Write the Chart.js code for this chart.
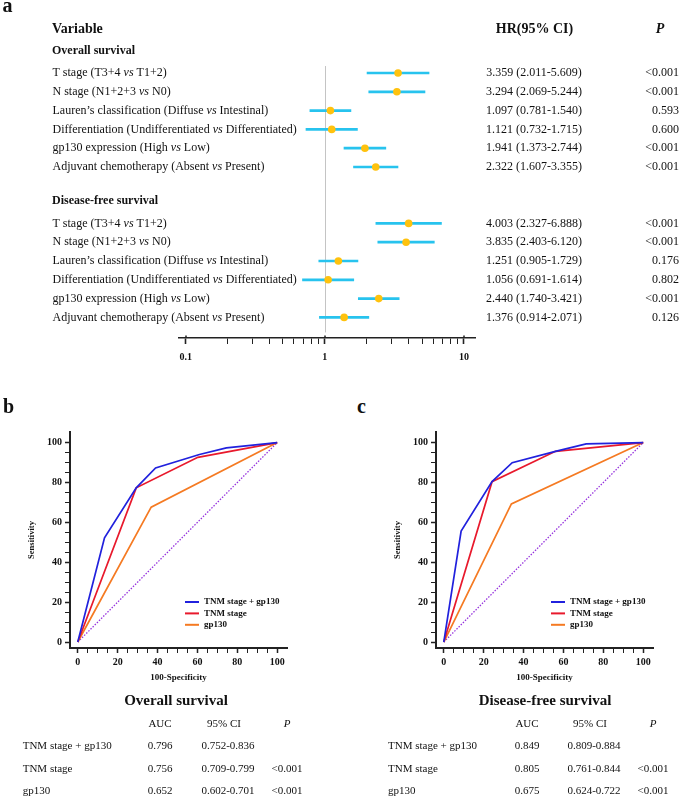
<!DOCTYPE html>
<html lang="en">
<head>
    <meta charset="UTF-8"/>
    <title>gp130 - hazard ratios and ROC curves</title>
    <script src="https://cdn.jsdelivr.net/npm/chart.js@4.4.1/dist/chart.umd.min.js"></script>
    <style>
        body { margin: 0; background: #fff; }
        #page { position: relative; width: 685px; height: 798px; overflow: hidden; color: #111;
                font-family: 'Liberation Serif', 'Times New Roman', serif; }
        .abs { position: absolute; white-space: nowrap; line-height: 1; }
        canvas { position: absolute; }
    </style>
</head>
<body>
<div id="page">
    <canvas id="forest" width="685" height="372" style="left:0;top:0"></canvas>
    <canvas id="rocOS" width="319" height="272" style="left:0;top:420px"></canvas>
    <canvas id="rocDFS" width="319" height="272" style="left:366px;top:420px"></canvas>
</div>

<script>
    // ---- forest plot data (panel a) ----
    const variables = [
        'T stage (T3+4 vs T1+2)',
        'N stage (N1+2+3 vs N0)',
        'Lauren\u2019s classification (Diffuse vs Intestinal)',
        'Differentiation (Undifferentiated vs Differentiated)',
        'gp130 expression (High vs Low)',
        'Adjuvant chemotherapy (Absent vs Present)'
    ];
    const osHR = [3.359, 3.294, 1.097, 1.121, 1.941, 2.322];
    const osLow = [2.011, 2.069, 0.781, 0.732, 1.373, 1.607];
    const osHigh = [5.609, 5.244, 1.540, 1.715, 2.744, 3.355];
    const osP = ['<0.001', '<0.001', '0.593', '0.600', '<0.001', '<0.001'];
    const dfsHR = [4.003, 3.835, 1.251, 1.056, 2.440, 1.376];
    const dfsLow = [2.327, 2.403, 0.905, 0.691, 1.740, 0.914];
    const dfsHigh = [6.888, 6.120, 1.729, 1.614, 3.421, 2.071];
    const dfsP = ['<0.001', '<0.001', '0.176', '0.802', '<0.001', '0.126'];
    const hrTicks = [1/10, 2/10, 3/10, 4/10, 5/10, 6/10, 7/10, 8/10, 9/10, 1, 2, 3, 4, 5, 6, 7, 8, 9, 10];
    const hrLabels = [1/10, 1, 10];

    // ---- ROC data (panels b, c): x = 100-specificity, y = sensitivity ----
    const rocModels = ['TNM stage + gp130', 'TNM stage', 'gp130'];
    const osCombX = [0, 13.4, 29.3, 39, 61, 74.5, 100];
    const osCombY = [0, 52.2, 77.3, 87.3, 94, 97.3, 100];
    const osTnmX = [0, 29.3, 60.2, 100];
    const osTnmY = [0, 77.3, 92.6, 100];
    const osGpX = [0, 36.8, 100];
    const osGpY = [0, 67.6, 100];
    const dfsCombX = [0, 8.7, 24.2, 34.3, 56, 71.4, 100];
    const dfsCombY = [0, 55.6, 80.4, 89.9, 95.6, 99.3, 100];
    const dfsTnmX = [0, 24.2, 56, 100];
    const dfsTnmY = [0, 80.4, 95.6, 100];
    const dfsGpX = [0, 33.9, 100];
    const dfsGpY = [0, 69.2, 100];
    const chanceX = [0, 100];
    const chanceY = [0, 100];
    const rocTicks = [0, 5, 10, 15, 20, 25, 30, 35, 40, 45, 50, 55, 60, 65, 70, 75, 80, 85, 90, 95, 100];

    // ---- AUC tables ----
    const osAUC = ['0.796', '0.756', '0.652'];
    const osCI = ['0.752-0.836', '0.709-0.799', '0.602-0.701'];
    const osAucP = ['', '<0.001', '<0.001'];
    const dfsAUC = ['0.849', '0.805', '0.675'];
    const dfsCI = ['0.809-0.884', '0.761-0.844', '0.624-0.722'];
    const dfsAucP = ['', '<0.001', '<0.001'];

    const serif = "'Liberation Serif', 'Times New Roman', serif";
    Chart.defaults.font.family = serif;
    Chart.defaults.color = '#111';

    // =================== FOREST PLOT ===================
    const barData = [];
    const dotData = [];
    osHR.forEach((v, i) => {
        barData.push({x: [osLow[i], osHigh[i]], y: 2 + i});
        dotData.push({x: v, y: 2 + i});
    });
    dfsHR.forEach((v, i) => {
        barData.push({x: [dfsLow[i], dfsHigh[i]], y: 10 + i});
        dotData.push({x: v, y: 10 + i});
    });

    function hrText(h, l, u) {
        return h.toFixed(3) + ' (' + l.toFixed(3) + '-' + u.toFixed(3) + ')';
    }

    // label with the "vs" in italics
    function drawLabel(ctx, text, x, y) {
        const parts = text.split(' vs ');
        ctx.font = '12px ' + serif;
        ctx.fillText(parts[0] + ' ', x, y);
        let cx = x + ctx.measureText(parts[0] + ' ').width;
        ctx.font = 'italic 12px ' + serif;
        ctx.fillText('vs', cx, y);
        cx += ctx.measureText('vs').width;
        ctx.font = '12px ' + serif;
        ctx.fillText(' ' + parts[1], cx, y);
    }

    const forestText = {
        id: 'forestText',
        beforeDatasetsDraw(chart) {
            const {ctx, scales: {x, y}} = chart;
            const px = Math.round(x.getPixelForValue(1)) + 0.5;
            ctx.save();
            ctx.strokeStyle = '#c4c4c4';
            ctx.lineWidth = 1;
            ctx.beginPath();
            ctx.moveTo(px, y.getPixelForValue(1.63));
            ctx.lineTo(px, y.getPixelForValue(15.8));
            ctx.stroke();
            ctx.restore();
        },
        afterDraw(chart) {
            const {ctx, scales: {x, y}, chartArea} = chart;
            ctx.save();
            ctx.fillStyle = '#111';
            ctx.textBaseline = 'middle';

            // headers
            ctx.textAlign = 'left';
            ctx.font = 'bold 14px ' + serif;
            ctx.fillText('Variable', 52, y.getPixelForValue(-0.34));
            ctx.textAlign = 'center';
            ctx.fillText('HR(95% CI)', 534.5, y.getPixelForValue(-0.34));
            ctx.font = 'italic bold 14px ' + serif;
            ctx.fillText('P', 660, y.getPixelForValue(-0.34));

            ctx.textAlign = 'left';
            ctx.font = 'bold 12px ' + serif;
            ctx.fillText('Overall survival', 52, y.getPixelForValue(0.83));
            ctx.fillText('Disease-free survival', 52, y.getPixelForValue(8.81));

            const groups = [
                {start: 2, hr: osHR, lo: osLow, hi: osHigh, p: osP},
                {start: 10, hr: dfsHR, lo: dfsLow, hi: dfsHigh, p: dfsP}
            ];
            groups.forEach(g => {
                variables.forEach((name, i) => {
                    const py = y.getPixelForValue(g.start + i);
                    ctx.textAlign = 'left';
                    drawLabel(ctx, name, 52.5, py);
                    ctx.font = '12px ' + serif;
                    ctx.textAlign = 'center';
                    ctx.fillText(hrText(g.hr[i], g.lo[i], g.hi[i]), 534, py);
                    ctx.textAlign = 'right';
                    ctx.fillText(g.p[i], 679, py);
                });
            });

            // major ticks poke slightly above the axis line
            ctx.strokeStyle = '#222';
            ctx.lineWidth = 1.5;
            hrLabels.forEach(v => {
                const px = Math.round(x.getPixelForValue(v));
                ctx.beginPath();
                ctx.moveTo(px, chartArea.bottom - 2.5);
                ctx.lineTo(px, chartArea.bottom);
                ctx.stroke();
            });
            ctx.restore();
        }
    };

    new Chart(document.getElementById('forest'), {
        type: 'bar',
        data: {
            datasets: [
                {
                    type: 'scatter',
                    data: dotData,
                    pointRadius: 3.8,
                    pointBackgroundColor: '#ffc20e',
                    pointBorderWidth: 0,
                    order: 1
                },
                {
                    type: 'bar',
                    data: barData,
                    indexAxis: 'y',
                    backgroundColor: '#27c3ee',
                    barThickness: 2,
                    borderSkipped: false,
                    order: 2
                }
            ]
        },
        options: {
            responsive: false,
            animation: false,
            indexAxis: 'y',
            layout: {padding: {left: 178.3, right: 210, top: 10, bottom: 0}},
            scales: {
                x: {
                    type: 'logarithmic',
                    position: 'bottom',
                    min: 0.0885,
                    max: 12.0,
                    afterBuildTicks: s => {
                        s.ticks = hrTicks.map(v => ({value: v}));
                    },
                    afterFit: s => {
                        s.height = 34;
                    },
                    border: {color: '#222', width: 1.5},
                    grid: {
                        drawOnChartArea: false,
                        tickLength: 6,
                        tickColor: '#222',
                        tickWidth: c => (c.tick && hrLabels.includes(c.tick.value)) ? 1.6 : 1
                    },
                    ticks: {
                        autoSkip: false,
                        maxRotation: 0,
                        padding: 7,
                        color: '#111',
                        font: {size: 10, weight: 'bold'},
                        callback: v => hrLabels.includes(v) ? String(v) : ''
                    }
                },
                y: {
                    type: 'linear',
                    display: false,
                    reverse: true,
                    offset: false,
                    min: -1.351,
                    max: 16.096
                }
            },
            plugins: {
                legend: {display: false},
                tooltip: {enabled: false}
            }
        },
        plugins: [forestText]
    });

    // =================== ROC CURVES ===================
    const rocColors = ['#2121dd', '#e8192c', '#f57a22'];

    const rocLegend = {
        id: 'rocLegend',
        afterDatasetsDraw(chart) {
            const {ctx, chartArea: ca} = chart;
            ctx.save();
            ctx.font = 'bold 9px ' + serif;
            ctx.textBaseline = 'middle';
            ctx.textAlign = 'left';
            chart.data.datasets.slice(0, 3).forEach((ds, i) => {
                const ly = ca.bottom - 46 + i * 11.4;
                ctx.strokeStyle = ds.borderColor;
                ctx.lineWidth = 2;
                ctx.beginPath();
                ctx.moveTo(ca.left + 115, ly);
                ctx.lineTo(ca.left + 129, ly);
                ctx.stroke();
                ctx.fillStyle = '#111';
                ctx.fillText(ds.label, ca.left + 134, ly);
            });
            ctx.restore();
        }
    };

    function points(xs, ys) {
        return xs.map((v, i) => ({x: v, y: ys[i]}));
    }

    function rocChart(id, curves) {
        const datasets = curves.map((c, k) => ({
            label: rocModels[k],
            data: points(c[0], c[1]),
            borderColor: rocColors[k],
            borderWidth: 1.7,
            pointRadius: 0,
            tension: 0
        }));
        datasets.push({
            label: 'chance',
            data: points(chanceX, chanceY),
            borderColor: '#9633dd',
            borderWidth: 1.3,
            borderDash: [1.5, 1.5],
            pointRadius: 0
        });

        const axis = (title, isX) => ({
            type: 'linear',
            min: isX ? -3.9 : -3,
            max: isX ? 104.9 : 105.3,
            afterBuildTicks: s => {
                s.ticks = rocTicks.map(v => ({value: v}));
            },
            afterFit: s => {
                if (isX) s.height = 44; else s.width = 70;
            },
            border: {color: '#222', width: 2},
            grid: {
                drawOnChartArea: false,
                tickLength: 5,
                tickColor: '#222',
                tickWidth: c => (c.tick && c.tick.value % 20 === 0) ? 1.5 : 1
            },
            ticks: {
                autoSkip: false,
                maxRotation: 0,
                padding: 3,
                color: '#111',
                font: {size: 10, weight: 'bold'},
                callback: v => v % 20 === 0 ? v : ''
            },
            title: {
                display: true,
                text: title,
                color: '#111',
                font: {size: isX ? 9 : 8.5, weight: 'bold'},
                padding: isX ? {top: 0, bottom: 9.3} : {top: 27, bottom: 0}
            }
        });

        new Chart(document.getElementById(id), {
            type: 'line',
            data: {datasets: datasets},
            options: {
                responsive: false,
                animation: false,
                layout: {padding: {left: 0, right: 32, top: 12, bottom: 0}},
                scales: {
                    x: axis('100-Specificity', true),
                    y: axis('Sensitivity', false)
                },
                plugins: {
                    legend: {display: false},
                    tooltip: {enabled: false}
                }
            },
            plugins: [rocLegend]
        });
    }

    rocChart('rocOS', [[osCombX, osCombY], [osTnmX, osTnmY], [osGpX, osGpY]]);
    rocChart('rocDFS', [[dfsCombX, dfsCombY], [dfsTnmX, dfsTnmY], [dfsGpX, dfsGpY]]);

    // =================== TEXT: panel letters and AUC tables ===================
    const page = document.getElementById('page');

    function put(text, x, y, font, align) {
        const d = document.createElement('div');
        d.className = 'abs';
        d.textContent = text;
        d.style.left = x + 'px';
        d.style.top = y + 'px';
        d.style.font = font;
        const tx = align === 'center' ? '-50%' : (align === 'right' ? '-100%' : '0');
        d.style.transform = 'translate(' + tx + ', -50%)';
        page.appendChild(d);
    }

    put('a', 2.5, 5.3, 'bold 20px ' + serif, 'left');
    put('b', 3, 406, 'bold 20px ' + serif, 'left');
    put('c', 357, 406, 'bold 20px ' + serif, 'left');

    function aucTable(title, titleX, nameX, cols, auc, ci, p) {
        put(title, titleX, 700, 'bold 15px ' + serif, 'center');
        put('AUC', cols[0], 723, '11px ' + serif, 'center');
        put('95% CI', cols[1] - 4, 723, '11px ' + serif, 'center');
        put('P', cols[2], 723, 'italic 11px ' + serif, 'center');
        const rowY = [745, 768, 790];
        rocModels.forEach((name, i) => {
            put(name, nameX, rowY[i], '11px ' + serif, 'left');
            put(auc[i], cols[0], rowY[i], '11px ' + serif, 'center');
            put(ci[i], cols[1], rowY[i], '11px ' + serif, 'center');
            if (p[i]) put(p[i], cols[2], rowY[i], '11px ' + serif, 'center');
        });
    }

    aucTable('Overall survival', 176, 22.7, [160, 228, 287], osAUC, osCI, osAucP);
    aucTable('Disease-free survival', 545, 388, [527, 594, 653], dfsAUC, dfsCI, dfsAucP);
</script>
</body>
</html>
